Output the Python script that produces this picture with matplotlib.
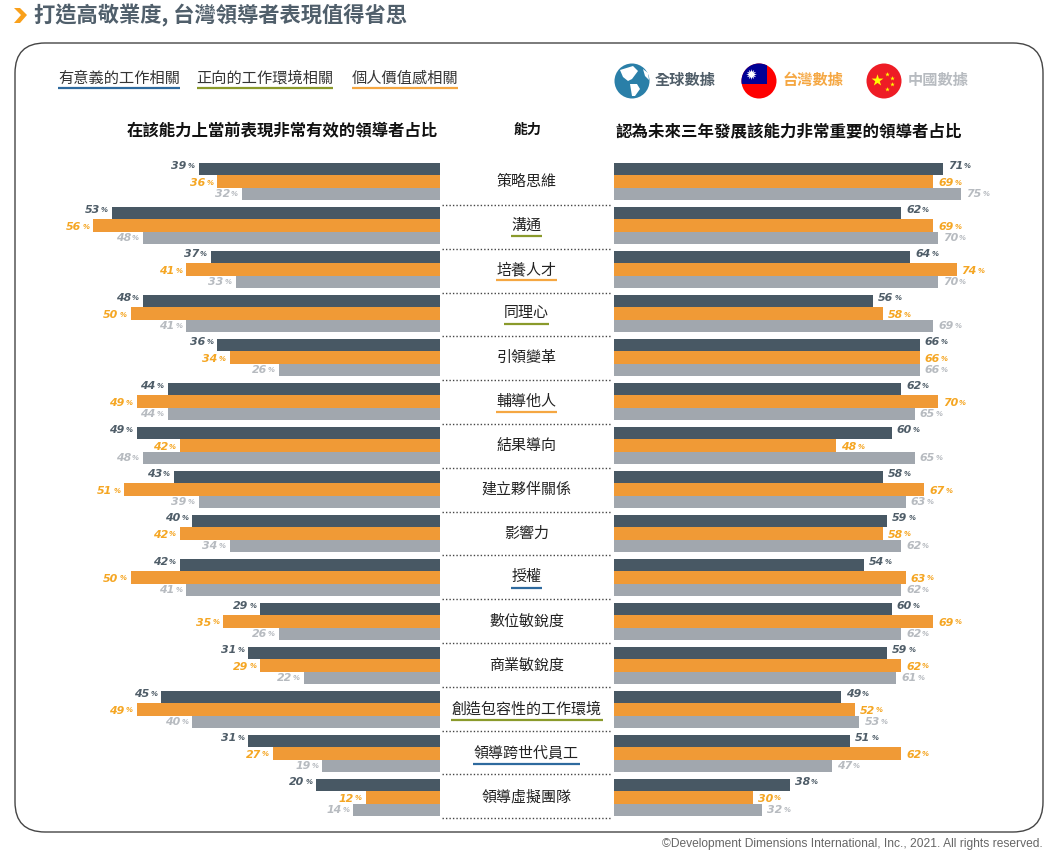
import matplotlib
matplotlib.use("Agg")
import matplotlib.pyplot as plt
import numpy as np
from matplotlib.patches import Circle, FancyBboxPatch, Polygon

plt.rcParams['font.family'] = ['Noto Sans CJK TC', 'DejaVu Sans']

categorias = ["策略思維", "溝通", "培養人才", "同理心", "引領變革", "輔導他人", "結果導向", "建立夥伴關係",
              "影響力", "授權", "數位敏銳度", "商業敏銳度", "創造包容性的工作環境", "領導跨世代員工", "領導虛擬團隊"]
sublinhado = [None, "olive", "orange", "olive", None, "orange", None, None,
              None, "blue", None, None, "olive", "blue", None]

atual_global = [39, 53, 37, 48, 36, 44, 49, 43, 40, 42, 29, 31, 45, 31, 20]
atual_taiwan = [36, 56, 41, 50, 34, 49, 42, 51, 42, 50, 35, 29, 49, 27, 12]
atual_china = [32, 48, 33, 41, 26, 44, 48, 39, 34, 41, 26, 22, 40, 19, 14]

futuro_global = [71, 62, 64, 56, 66, 62, 60, 58, 59, 54, 60, 59, 49, 51, 38]
futuro_taiwan = [69, 69, 74, 58, 66, 70, 48, 67, 58, 63, 69, 62, 52, 62, 30]
futuro_china = [75, 70, 70, 69, 66, 65, 65, 63, 62, 62, 62, 61, 53, 47, 32]

titulo = "打造高敬業度, 台灣領導者表現值得省思"
titulo_esq = "在該能力上當前表現非常有效的領導者占比"
titulo_meio = "能力"
titulo_dir = "認為未來三年發展該能力非常重要的領導者占比"
legenda_linhas = ["有意義的工作相關", "正向的工作環境相關", "個人價值感相關"]
legenda_dados = ["全球數據", "台灣數據", "中國數據"]
copyright_txt = "©Development Dimensions International, Inc., 2021. All rights reserved."

W, H = 1055, 851
COR_BARRA = ["#485864", "#F09A36", "#A1A7AE"]
COR_TEXTO = ["#4F5D68", "#F5A623", "#B7BBC0"]
COR_LINHA = {"blue": "#2E6A9E", "olive": "#8A9A2B", "orange": "#F5A742"}
NUM_FONT = ["DejaVu Sans"]


def px(v):
    return v * 0.72


def eixo(x0, x1, y0=159.5, y1=819.5):
    return fig.add_axes([x0 / W, 1 - y1 / H, (x1 - x0) / W, (y1 - y0) / H])


def barras(ax, series, lado):
    deslocamento = [-2.5, 1, 0]
    for s, valores in enumerate(series):
        y = [i + (s - 1) * 0.286 for i in range(len(valores))]
        ax.barh(y, valores, height=0.29, color=COR_BARRA[s], linewidth=0)
        for yi, v in zip(y, valores):
            dy = -deslocamento[s] * 0.72
            if lado == "esq":
                ax.annotate("%", (v, yi), xytext=(px(-4), dy), textcoords="offset points", ha="right", va="center",
                            fontsize=px(7), color=COR_TEXTO[s], family=NUM_FONT, fontweight="bold", style="italic")
                ax.annotate(str(v), (v, yi), xytext=(px(-12), dy), textcoords="offset points", ha="right", va="center",
                            fontsize=px(11), color=COR_TEXTO[s], family=NUM_FONT, fontweight="bold", style="italic")
            else:
                ax.annotate(str(v), (v, yi), xytext=(px(5), dy), textcoords="offset points", ha="left", va="center",
                            fontsize=px(11), color=COR_TEXTO[s], family=NUM_FONT, fontweight="bold", style="italic")
                ax.annotate("%", (v, yi), xytext=(px(21), dy), textcoords="offset points", ha="left", va="center",
                            fontsize=px(7), color=COR_TEXTO[s], family=NUM_FONT, fontweight="bold", style="italic")
    ax.set_ylim(14.5, -0.5)
    ax.axis("off")


fig = plt.figure(figsize=(W / 100, H / 100), dpi=100, facecolor="white")

# camada de fundo em pixels
bg = fig.add_axes([0, 0, 1, 1])
bg.set_xlim(0, W)
bg.set_ylim(H, 0)
bg.axis("off")

bg.add_patch(FancyBboxPatch((15, 43), 1028, 789, boxstyle="round,pad=0,rounding_size=30",
                            fc="white", ec="#454545", lw=1.0))
bg.add_patch(Polygon([(14, 8), (20, 8), (27, 15), (20, 23), (14, 23), (21, 15)], fc="#F9A01B", ec="none"))
bg.text(34, 15, titulo, fontsize=px(21.3), fontweight="bold", color="#505F6B", va="center", ha="left")

# legenda das linhas
for txt, x0, x1, cor in zip(legenda_linhas, [58, 197, 352], [180, 333, 458], ["blue", "olive", "orange"]):
    bg.text((x0 + x1) / 2, 78, txt, fontsize=px(15.2), color="#333333", va="center", ha="center")
    bg.plot([x0, x1], [88, 88], color=COR_LINHA[cor], lw=1.6, solid_capstyle="butt")

# icones
bg.add_patch(Circle((632, 81), 17.5, fc="#2A7FA8", ec="none"))
bg.add_patch(Polygon([(620, 70), (633, 66), (638, 71), (632, 79), (628, 81), (623, 77)], fc="white", ec="none"))
bg.add_patch(Polygon([(630, 84), (637, 84), (640, 89), (635, 96), (632, 96)], fc="white", ec="none"))
bg.add_patch(Polygon([(643, 69), (648, 73), (649, 80), (645, 76)], fc="white", ec="none"))

# bandeira de taiwan: canto azul feito com o arco do circulo
cx, cy, r = 759, 81, 17.5
bg.add_patch(Circle((cx, cy), r, fc="#FE0000", ec="none"))
ang = np.linspace(np.arctan2(3, -np.sqrt(r ** 2 - 9)), np.arctan2(-np.sqrt(r ** 2 - 64), 8) + 2 * np.pi, 40)
arco = np.column_stack([cx + r * np.cos(ang), cy + r * np.sin(ang)])
bg.add_patch(Polygon(np.vstack([[cx + 8, cy + 3], arco]), fc="#000095", ec="none"))
bg.scatter([751], [74], s=60, marker=(12, 1, 0), color="white", linewidths=0, zorder=4)

bg.add_patch(Circle((884, 81), 17.5, fc="#EE1C25", ec="none"))
bg.scatter([877], [80], s=80, marker="*", color="#FFFF00", linewidths=0, zorder=4)
bg.scatter([887, 892, 892, 887], [74, 78, 84, 89], s=12, marker="*", color="#FFFF00", linewidths=0, zorder=4)

for txt, x, cor in zip(legenda_dados, [655, 783, 908], ["#4F5D68", "#F5A742", "#B7BBC0"]):
    bg.text(x, 80, txt, fontsize=px(15.2), fontweight="bold", color=cor, va="center", ha="left")

# titulos das colunas
bg.text(282, 131, titulo_esq, fontsize=px(16.4), fontweight="bold", color="#111111", va="center", ha="center")
bg.text(527.5, 130, titulo_meio, fontsize=px(14), fontweight="bold", color="#111111", va="center", ha="center")
bg.text(788.5, 131, titulo_dir, fontsize=px(16.5), fontweight="bold", color="#111111", va="center", ha="center")

# coluna do meio
for i, nome in enumerate(categorias):
    yc = 181 + 44 * i
    bg.text(526.5, yc + 0.5, nome, fontsize=px(15), color="#222222", va="center", ha="center")
    if sublinhado[i]:
        meia = len(nome) * 7.6
        bg.plot([526.5 - meia, 526.5 + meia], [yc + 11, yc + 11], color=COR_LINHA[sublinhado[i]], lw=1.6,
                solid_capstyle="butt")
    yd = 205 + 43.8 * i
    bg.plot([442, 612], [yd, yd], color="#444444", lw=1, linestyle=(0, (1, 1.5)))

bg.text(1042.5, 844, copyright_txt, fontsize=px(12.05), color="#666666", va="center", ha="right",
        family=["Liberation Sans"])

# barras
ax_esq = eixo(60, 440)
ax_esq.set_xlim(380 / 6.19, 0)
barras(ax_esq, [atual_global, atual_taiwan, atual_china], "esq")

ax_dir = eixo(614, 1030)
ax_dir.set_xlim(0, 416 / 4.63)
barras(ax_dir, [futuro_global, futuro_taiwan, futuro_china], "dir")

fig.savefig("out.png", dpi=100)
